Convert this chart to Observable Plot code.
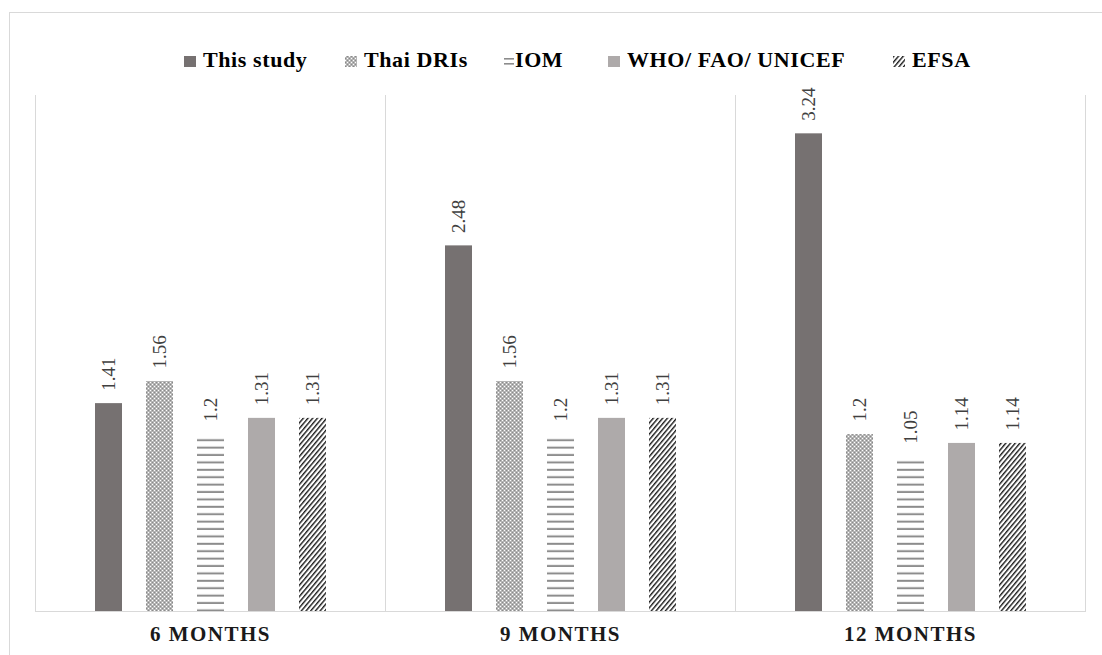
<!DOCTYPE html>
<html>
<head>
<meta charset="utf-8">
<script src="https://cdn.jsdelivr.net/npm/d3@7"></script>
<script src="https://cdn.jsdelivr.net/npm/@observablehq/plot@0.6"></script>
<style>
  html, body { margin: 0; padding: 0; background: #fff; overflow: hidden; }
  #page { position: relative; width: 1102px; height: 655px; overflow: hidden; }
  #border { position: absolute; left: 9px; top: 12px; width: 1200px; height: 800px;
            border-left: 1px solid #d9d9d9; border-top: 1px solid #d9d9d9; }
  #chart { position: absolute; left: 0; top: 0; }
  #legend { position: absolute; left: 0; top: 0; width: 1102px; height: 90px;
            font-family: "Liberation Serif", "Times New Roman", serif; font-weight: bold;
            font-size: 22px; color: #000; }
  .item { position: absolute; top: 47px; white-space: nowrap; letter-spacing: 0.6px; }
  .item svg { position: absolute; top: 9px; }
  .item span { position: absolute; top: 0; }
  [aria-label^="fx-axis"] text { letter-spacing: 1.5px; }
</style>
</head>
<body>
<svg width="0" height="0" style="position:absolute">
  <defs>
    <pattern id="dots" patternUnits="userSpaceOnUse" width="4" height="4">
      <rect width="4" height="4" fill="#b4b4b4"></rect>
      <rect x="0" y="0" width="1" height="1" fill="#ffffff"></rect>
      <rect x="2" y="2" width="1" height="1" fill="#ffffff"></rect>
      <rect x="2" y="0" width="1" height="1" fill="#8a8a8a"></rect>
      <rect x="0" y="2" width="1" height="1" fill="#8a8a8a"></rect>
    </pattern>
    <pattern id="hlines" patternUnits="userSpaceOnUse" width="10" height="7.4">
      <rect width="10" height="7.4" fill="#ffffff"></rect>
      <rect x="0" y="2.6" width="10" height="2" fill="#8c8c8c"></rect>
    </pattern>
    <pattern id="hatch" patternUnits="userSpaceOnUse" width="3.6" height="10" patternTransform="rotate(40)">
      <rect width="3.6" height="10" fill="#ffffff"></rect>
      <rect x="0" y="0" width="1.4" height="10" fill="#1a1a1a"></rect>
    </pattern>
  </defs>
</svg>
<div id="page">
  <div id="border"></div>
  <div id="chart"></div>
  <div id="legend"></div>
</div>
<script>
// Ages and reference sources
const months = ["6 MONTHS", "9 MONTHS", "12 MONTHS"];
const sources = ["This study", "Thai DRIs", "IOM", "WHO/ FAO/ UNICEF", "EFSA"];

// Values per source, one entry per age
const thisStudy = [1.41, 2.48, 3.24];
const thaiDRIs = [1.56, 1.56, 1.2];
const iom = [1.2, 1.2, 1.05];
const whoFaoUnicef = [1.31, 1.31, 1.14];
const efsa = [1.31, 1.31, 1.14];

const fills = ["#767171", "url(#dots)", "url(#hlines)", "#AEAAAA", "url(#hatch)"];

const seriesValues = [thisStudy, thaiDRIs, iom, whoFaoUnicef, efsa];
const data = [];
months.forEach((m, i) => {
  sources.forEach((s, j) => {
    data.push({month: m, source: s, value: seriesValues[j][i]});
  });
});

const chart = Plot.plot({
  width: 1102,
  height: 655,
  marginLeft: 35,
  marginRight: 17,
  marginTop: 95,
  marginBottom: 44,
  style: {fontFamily: "Liberation Serif, Times New Roman, serif", background: "transparent"},
  facet: {data, x: "month"},
  fx: {domain: months, padding: 0, label: null, tickSize: 0, tickPadding: 15, axis: "bottom"},
  x: {domain: sources, paddingInner: 0.476, paddingOuter: 1.136, axis: null},
  y: {domain: [0, 3.5], axis: null},
  color: {domain: sources, range: fills},
  marks: [
    Plot.frame({anchor: "left", stroke: "#d9d9d9", strokeWidth: 1}),
    Plot.frame({anchor: "right", stroke: "#d9d9d9", strokeWidth: 1}),
    Plot.barY(data, {x: "source", y: "value", fill: "source"}),
    Plot.ruleY([0], {stroke: "#d9d9d9", strokeWidth: 1.2}),
    Plot.text(data, {
      x: "source", y: "value", text: d => String(d.value),
      rotate: -90, textAnchor: "start", dy: -13,
      fontSize: 19, fill: "#404040"
    })
  ]
});
// fx tick labels: bold, larger
d3.select(chart).selectAll('[aria-label^="fx-axis"] text')
  .attr("font-size", 21).attr("font-weight", "bold").attr("fill", "#1a1a1a");
d3.select(chart).selectAll('[aria-label^="fx-axis"]')
  .attr("font-size", 21).attr("font-weight", "bold");
document.getElementById("chart").appendChild(chart);

// Legend
const legendX = [184, 345, 503, 608, 893];
const legend = d3.select("#legend");
sources.forEach((s, i) => {
  const item = legend.append("div").attr("class", "item").style("left", legendX[i] + "px");
  const sw = item.append("svg").attr("width", 12).attr("height", 11);
  if (s === "IOM") {
    sw.append("rect").attr("x", 1).attr("y", 2).attr("width", 10).attr("height", 1.6).attr("fill", "#8c8c8c");
    sw.append("rect").attr("x", 1).attr("y", 7).attr("width", 10).attr("height", 1.6).attr("fill", "#8c8c8c");
  } else {
    sw.append("rect").attr("width", 12).attr("height", 11).attr("fill", fills[i]);
  }
  item.append("span").style("left", (i === 2 ? 12 : 19) + "px").text(s);
});
</script>
</body>
</html>
